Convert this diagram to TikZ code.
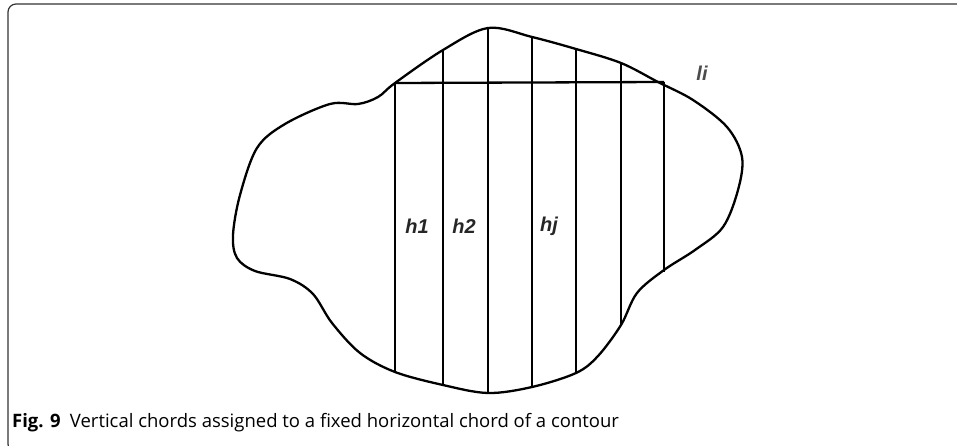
\documentclass[tikz,border=0pt]{standalone}
\usepackage{fontspec}
\setmainfont{Open Sans}
\newfontfamily\lblfont{Liberation Sans}
\usepackage{tikz}
\usetikzlibrary{calc}

\begin{document}
\begin{tikzpicture}[x=1pt,y=-1pt,line join=round]
\useasboundingbox(0,0)rectangle(957,446);
% frame
\draw[black!80,line width=1.2pt,rounded corners=8](957,4)--(8,4)--(8,452)--(24,452);
% contour
\draw[line width=2.3pt]plot[smooth cycle,tension=0.55]coordinates{
(395,83)(443,50)(488,28)(532,37)(576,49)(621,63)(658,82)(693,100)(727,127)(742,157)(738,190)
(723,227)(695,250)(664,270)(637,293)(621,325)(598,356)(576,373)(532,387)(488,393)(443,385)(395,372)
(360,353)(332,323)(313,294)(290,279)(255,271)(237,258)(233,235)(240,195)(257,148)(285,124)(330,104)
(358,104)(378,97)};
% chords
\coordinate(T1)at(395,83);\coordinate(T2)at(443,50);\coordinate(T3)at(488,28);\coordinate(T4)at(532,37);
\coordinate(T5)at(576,49);\coordinate(T6)at(621,63);\coordinate(T7)at(664,82);
\coordinate(B1)at(395,372);\coordinate(B2)at(443,385);\coordinate(B3)at(488,393);\coordinate(B4)at(532,387);
\coordinate(B5)at(576,373);\coordinate(B6)at(621,325);\coordinate(B7)at(664,272);
\draw[line width=2.3pt](T1)--(T7);
\foreach \i in {1,...,7}{\draw[line width=2.3pt](T\i)--(B\i);}
% labels
\node[font=\lblfont\itshape\bfseries\fontsize{20}{22}\selectfont,black!85]at(417,226){h1};
\node[font=\lblfont\itshape\bfseries\fontsize{20}{22}\selectfont,black!85]at(464,226){h2};
\node[font=\lblfont\itshape\bfseries\fontsize{20}{22}\selectfont,black!85]at(549,226){hj};
\node[font=\lblfont\itshape\bfseries\fontsize{20}{22}\selectfont,black!70]at(702,73){li};
% caption
\node[anchor=base west,inner sep=0pt,font=\fontsize{18.5}{21}\selectfont]at(12,427){\textbf{Fig. 9}\enspace Vertical chords assigned to a fixed horizontal chord of a contour};
\end{tikzpicture}
\end{document}
